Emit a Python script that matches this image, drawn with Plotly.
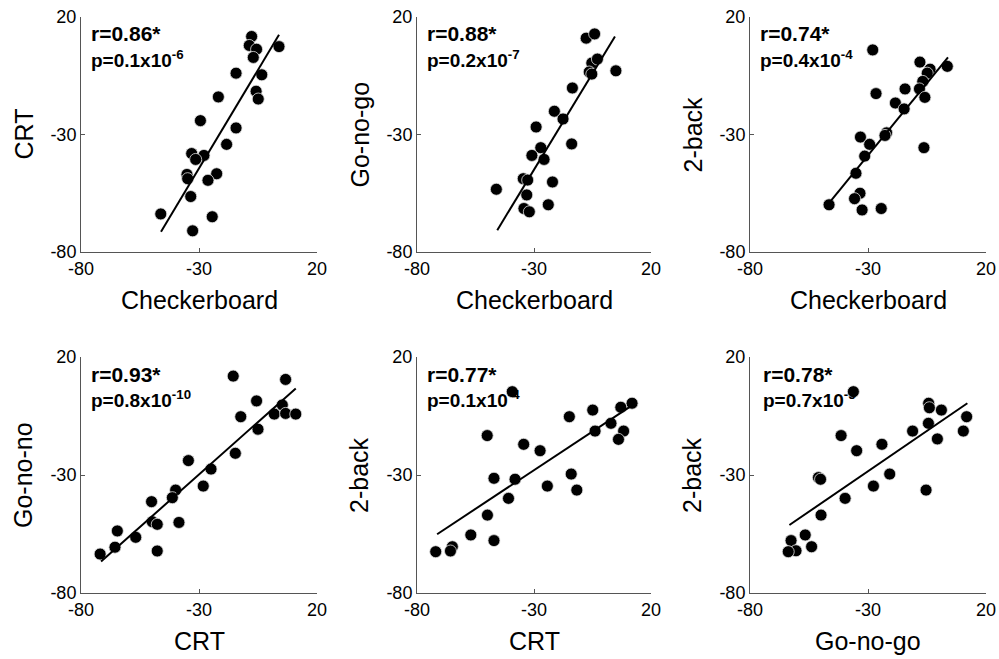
import plotly.graph_objects as go

# ---------------- data ----------------
tick_vals = [-80, -30, 20]
tick_text = ["-80", "-30", "20"]

x_titles = ["Checkerboard", "Checkerboard", "Checkerboard", "CRT", "CRT", "Go-no-go"]
y_titles = ["CRT", "Go-no-go", "2-back", "Go-no-no", "2-back", "2-back"]
r_texts = ["r=0.86*", "r=0.88*", "r=0.74*", "r=0.93*", "r=0.77*", "r=0.78*"]
p_texts = ["p=0.1x10<sup>-6</sup>", "p=0.2x10<sup>-7</sup>", "p=0.4x10<sup>-4</sup>",
           "p=0.8x10<sup>-10</sup>", "p=0.1x10<sup>-4</sup>", "p=0.7x10<sup>-5</sup>"]

# Panel 1: Checkerboard vs CRT
p1_x = [-7.7, -8.7, -5.6, -7.0, 3.9, -14.3, -3.4, -5.8, -4.9, -21.8, -29.4, -14.3,
        -18.3, -33.1, -27.9, -31.4, -35.1, -34.8, -22.5, -26.2, -33.5, -46.2, -24.4, -32.7]
p1_y = [11.7, 7.9, 6.3, 2.8, 7.4, -3.9, -4.6, -11.6, -14.9, -14.0, -24.1, -27.2,
        -34.2, -38.1, -38.9, -40.6, -47.0, -48.8, -46.7, -49.5, -56.4, -63.8, -65.0, -71.0]
p1_fit_x = [-46.1, 3.9]
p1_fit_y = [-71.4, 12.4]

# Panel 2: Checkerboard vs Go-no-go
p2_x = [-7.7, -4.1, -5.3, -2.9, -6.4, -5.3, 5.0, -13.6, -21.3, -17.6, -29.1, -27.1,
        -13.9, -30.9, -25.7, -34.6, -32.7, -22.1, -46.1, -33.1, -34.3, -32.0, -23.9]
p2_y = [11.0, 12.8, 0.4, 2.1, -3.4, -4.3, -2.9, -10.2, -20.1, -23.4, -26.8, -35.6,
        -34.0, -38.9, -40.6, -48.8, -49.4, -50.2, -53.3, -55.7, -61.5, -62.9, -59.9]
p2_fit_x = [-45.7, 4.6]
p2_fit_y = [-70.7, 11.7]

# Panel 3: Checkerboard vs 2-back
p3_x = [-28.0, -8.0, -3.7, -4.9, 3.6, -6.8, -8.2, -5.9, -14.3, -18.4, -14.7, -26.6,
        -22.1, -22.8, -33.2, -29.3, -31.4, -6.3, -35.1, -33.4, -35.7, -46.5, -32.5, -24.4]
p3_y = [6.0, 0.8, -2.2, -3.9, -1.0, -7.4, -10.6, -14.2, -10.6, -16.6, -19.1, -12.6,
        -29.3, -30.4, -31.1, -34.2, -39.2, -35.6, -46.5, -55.0, -57.3, -59.9, -62.1, -61.5]
p3_fit_x = [-46.1, 3.9]
p3_fit_y = [-58.7, 2.8]

# Panel 4: CRT vs Go-no-go
p4_x = [-15.5, 6.7, -5.6, 5.3, 1.9, 6.7, 11.0, -12.3, -5.0, -14.6, -34.5, -24.9,
        -28.2, -39.9, -41.3, -50.1, -49.8, -47.7, -38.5, -64.6, -56.8, -65.6, -71.9, -47.7]
p4_y = [11.9, 10.5, 1.4, -0.3, -4.2, -3.9, -4.2, -5.3, -10.6, -20.8, -23.9, -27.5,
        -34.7, -36.4, -39.6, -41.3, -49.8, -50.9, -50.1, -53.7, -56.4, -60.6, -63.5, -62.2]
p4_fit_x = [-71.5, 11.0]
p4_fit_y = [-66.7, 6.7]

# Panel 5: CRT vs 2-back
p5_x = [-39.3, -4.9, 11.9, 7.1, -14.9, 2.9, -3.9, 8.3, 6.1, -50.0, -34.4, -27.4,
        -47.1, -38.1, -14.1, -24.3, -11.7, -40.9, -49.9, -57.0, -47.1, -64.9, -65.7, -72.0]
p5_y = [5.3, -2.5, 0.4, -1.3, -5.3, -8.1, -11.4, -11.4, -14.9, -13.3, -17.0, -19.7,
        -31.4, -31.8, -29.6, -34.7, -36.4, -39.9, -47.0, -55.4, -57.8, -60.4, -62.2, -62.5]
p5_fit_x = [-71.4, 11.1]
p5_fit_y = [-55.1, -1.0]

# Panel 6: Go-no-go vs 2-back
p6_x = [-36.2, -4.3, -4.0, 1.1, 11.8, -11.1, -4.4, 10.4, -0.6, -41.4, -34.8, -24.1,
        -20.8, -27.7, -5.4, -51.0, -50.1, -39.7, -49.9, -56.6, -62.6, -53.9, -60.5, -63.8]
p6_y = [5.3, 0.4, -1.5, -2.5, -5.3, -11.4, -8.1, -11.4, -14.7, -13.3, -19.7, -17.0,
        -29.6, -34.7, -36.4, -31.1, -31.8, -39.9, -47.0, -55.4, -57.8, -60.4, -62.1, -62.5]
p6_fit_x = [-63.3, 12.1]
p6_fit_y = [-51.2, 0.4]

pts_x = [p1_x, p2_x, p3_x, p4_x, p5_x, p6_x]
pts_y = [p1_y, p2_y, p3_y, p4_y, p5_y, p6_y]
fits_x = [p1_fit_x, p2_fit_x, p3_fit_x, p4_fit_x, p5_fit_x, p6_fit_x]
fits_y = [p1_fit_y, p2_fit_y, p3_fit_y, p4_fit_y, p5_fit_y, p6_fit_y]

# ---------------- layout geometry ----------------
W, H = 999, 659
col_px = [(81, 317), (417, 651), (750, 986)]
row_px = [(17, 252), (357, 593)]
ytitle_off = 58
text_off = [10, 10, 10, 10, 10, 13]

FONT = "Liberation Sans, Arial, sans-serif"
AX_COLOR = "#555555"

fig = go.Figure()
layout_axes = {}
annotations = []

for i in range(6):
    r, c = divmod(i, 3)
    sfx = "" if i == 0 else str(i + 1)
    x0, x1 = col_px[c]
    y0, y1 = row_px[r]
    xd = [x0 / W, x1 / W]
    yd = [1 - y1 / H, 1 - y0 / H]

    fig.add_trace(go.Scatter(
        x=pts_x[i], y=pts_y[i], mode="markers", cliponaxis=False,
        marker=dict(color="black", size=12, line=dict(color="#e0e0e0", width=0.8)),
        xaxis="x" + sfx, yaxis="y" + sfx, showlegend=False, hoverinfo="skip"))
    fig.add_trace(go.Scatter(
        x=fits_x[i], y=fits_y[i], mode="lines",
        line=dict(color="black", width=2),
        xaxis="x" + sfx, yaxis="y" + sfx, showlegend=False, hoverinfo="skip"))

    common = dict(range=[-80, 20], tickmode="array", tickvals=tick_vals, ticktext=tick_text,
                  ticks="inside", ticklen=4, tickwidth=1, tickcolor=AX_COLOR,
                  showline=True, linecolor=AX_COLOR, linewidth=1,
                  showgrid=False, zeroline=False, fixedrange=True, automargin=False,
                  tickfont=dict(family=FONT, size=18, color="black"))
    layout_axes["xaxis" + sfx] = dict(domain=xd, anchor="y" + sfx, **common)
    layout_axes["yaxis" + sfx] = dict(domain=yd, anchor="x" + sfx, **common)

    # axis titles
    annotations.append(dict(
        x=(x0 + x1) / 2 / W, y=1 - (y1 + 48) / H, xref="paper", yref="paper",
        text=x_titles[i], showarrow=False, xanchor="center", yanchor="middle",
        font=dict(family=FONT, size=25, color="black")))
    annotations.append(dict(
        x=(x0 - ytitle_off) / W, y=1 - (y0 + y1) / 2 / H, xref="paper", yref="paper",
        text=y_titles[i], showarrow=False, textangle=-90, xanchor="center", yanchor="middle",
        font=dict(family=FONT, size=25, color="black")))
    # statistics
    annotations.append(dict(
        x=(x0 + text_off[i] - 2) / W, y=1 - (y0 + 17) / H, xref="paper", yref="paper",
        text="<b>" + r_texts[i] + "</b>", showarrow=False, xanchor="left", yanchor="middle",
        font=dict(family=FONT, size=21, color="black")))
    annotations.append(dict(
        x=(x0 + text_off[i] - 2) / W, y=1 - (y0 + 42) / H, xref="paper", yref="paper",
        text="<b>" + p_texts[i] + "</b>", showarrow=False, xanchor="left", yanchor="middle",
        font=dict(family=FONT, size=19, color="black")))

fig.update_layout(
    width=W, height=H, margin=dict(l=0, r=0, t=0, b=0, autoexpand=False),
    paper_bgcolor="white", plot_bgcolor="white",
    annotations=annotations, showlegend=False,
    **layout_axes)

fig.write_html("out.html", config={"displayModeBar": False},
               post_script="document.body.style.margin='0';document.body.style.overflow='hidden';")
